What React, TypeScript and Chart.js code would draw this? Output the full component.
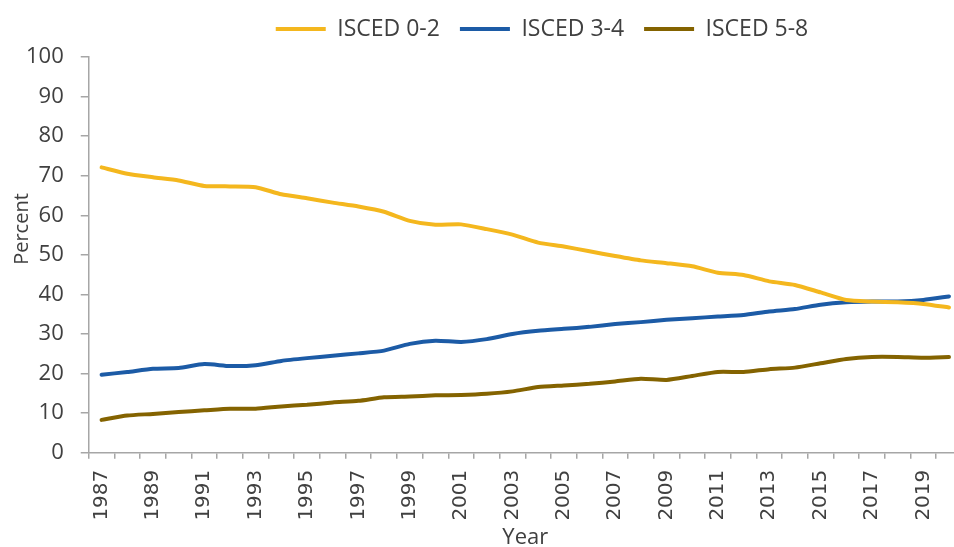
import React, { useEffect, useRef } from 'react';
import { Chart, registerables } from 'chart.js';

Chart.register(...registerables);

const years = [
  '1987', '1988', '1989', '1990', '1991', '1992', '1993', '1994', '1995', '1996',
  '1997', '1998', '1999', '2000', '2001', '2002', '2003', '2004', '2005', '2006',
  '2007', '2008', '2009', '2010', '2011', '2012', '2013', '2014', '2015', '2016',
  '2017', '2018', '2019', '2020',
];

const isced02 = [
  72.1, 70.5, 69.6, 68.8, 67.4, 67.3, 67.1, 65.3, 64.3, 63.2,
  62.2, 60.9, 58.6, 57.6, 57.7, 56.5, 55.1, 53.1, 52.1, 50.9,
  49.7, 48.6, 47.9, 47.1, 45.5, 44.9, 43.3, 42.4, 40.5, 38.6,
  38.2, 38.0, 37.6, 36.7,
];

const isced34 = [
  19.7, 20.4, 21.2, 21.4, 22.4, 21.9, 22.1, 23.2, 23.9, 24.5,
  25.1, 25.8, 27.5, 28.3, 28.0, 28.7, 30.0, 30.8, 31.3, 31.8,
  32.5, 33.0, 33.6, 34.0, 34.4, 34.8, 35.7, 36.3, 37.4, 38.0,
  38.2, 38.2, 38.6, 39.5,
];

const isced58 = [
  8.3, 9.4, 9.8, 10.3, 10.7, 11.1, 11.1, 11.7, 12.1, 12.7,
  13.1, 14.0, 14.2, 14.5, 14.6, 14.9, 15.5, 16.6, 17.0, 17.4,
  18.0, 18.7, 18.4, 19.4, 20.4, 20.4, 21.1, 21.5, 22.6, 23.7,
  24.2, 24.2, 24.0, 24.2,
];

const seriesLabels = ['ISCED 0-2', 'ISCED 3-4', 'ISCED 5-8'];
const seriesColors = ['#F4B71E', '#1C5BA6', '#846300'];
const yTitle = 'Percent';
const xTitle = 'Year';

const TEXT = '#404040';
const AXIS = '#A6A6A6';

const legendShift = {
  id: 'legendShift',
  afterLayout(chart: any) {
    const lg = chart.legend;
    if (!lg) return;
    const dx = 542 - (lg.left + lg.right) / 2;
    const dy = -6.5;
    lg.left += dx;
    lg.right += dx;
    lg.top += dy;
    lg.bottom += dy;
  },
};

const yTitlePlugin = {
  id: 'yTitlePlugin',
  afterDraw(chart: any) {
    const ctx = chart.ctx;
    ctx.save();
    ctx.translate(22, 229);
    ctx.rotate(-Math.PI / 2);
    ctx.font = '20px "Open Sans"';
    ctx.fillStyle = TEXT;
    ctx.textAlign = 'center';
    ctx.textBaseline = 'middle';
    ctx.fillText(yTitle, 0, 0);
    ctx.restore();
  },
};

export default function App() {
  const ref = useRef<HTMLCanvasElement | null>(null);

  useEffect(() => {
    if (!ref.current) return;
    const chart = new Chart(ref.current, {
      type: 'line',
      data: {
        labels: years,
        datasets: [isced02, isced34, isced58].map((d, i) => ({
          label: seriesLabels[i],
          data: d,
          borderColor: seriesColors[i],
          backgroundColor: seriesColors[i],
          borderWidth: 4,
          pointRadius: 0,
          tension: 0.2,
          fill: false,
          borderCapStyle: 'round',
          borderJoinStyle: 'round',
        })),
      },
      options: {
        responsive: false,
        animation: false,
        layout: { padding: { top: 4, left: 9, right: 0, bottom: 0 } },
        plugins: {
          tooltip: { enabled: false },
          legend: {
            position: 'top',
            labels: {
              boxWidth: 50,
              boxHeight: 4,
              padding: 20,
              color: TEXT,
              font: { family: '"Open Sans"', size: 23 },
              generateLabels: (c: any) =>
                Chart.defaults.plugins.legend.labels
                  .generateLabels(c)
                  .map((l: any) => ({ ...l, lineWidth: 0 })),
            },
          },
        },
        scales: {
          x: {
            offset: true,
            grid: {
              offset: true,
              drawOnChartArea: false,
              drawTicks: true,
              tickLength: 6,
              color: AXIS,
              lineWidth: 1.5,
            },
            border: { display: true, color: AXIS, width: 1.5 },
            ticks: {
              autoSkip: false,
              minRotation: 90,
              maxRotation: 90,
              padding: 11,
              color: TEXT,
              font: { family: 'DejaVu Sans', size: 20 },
              callback: (_v: any, i: number) => (i % 2 === 0 ? years[i] : ''),
            },
            title: {
              display: true,
              text: xTitle,
              color: TEXT,
              font: { family: '"Open Sans"', size: 22 },
              padding: { top: -7, bottom: 0 },
            },
          },
          y: {
            min: 0,
            max: 100,
            grid: {
              drawOnChartArea: false,
              drawTicks: true,
              tickLength: 8,
              color: AXIS,
              lineWidth: 1.5,
            },
            border: { display: true, color: AXIS, width: 1.5 },
            ticks: {
              stepSize: 10,
              padding: 17,
              color: TEXT,
              font: { family: '"Open Sans"', size: 22 },
            },
          },
        },
      },
      plugins: [legendShift, yTitlePlugin],
    } as any);
    return () => chart.destroy();
  }, []);

  return (
    <div
      style={{
        position: 'fixed',
        left: 0,
        top: 0,
        width: 954,
        height: 547,
        overflow: 'hidden',
        background: '#fff',
      }}
    >
      <canvas ref={ref} width={984} height={551} style={{ display: 'block' }} />
    </div>
  );
}
